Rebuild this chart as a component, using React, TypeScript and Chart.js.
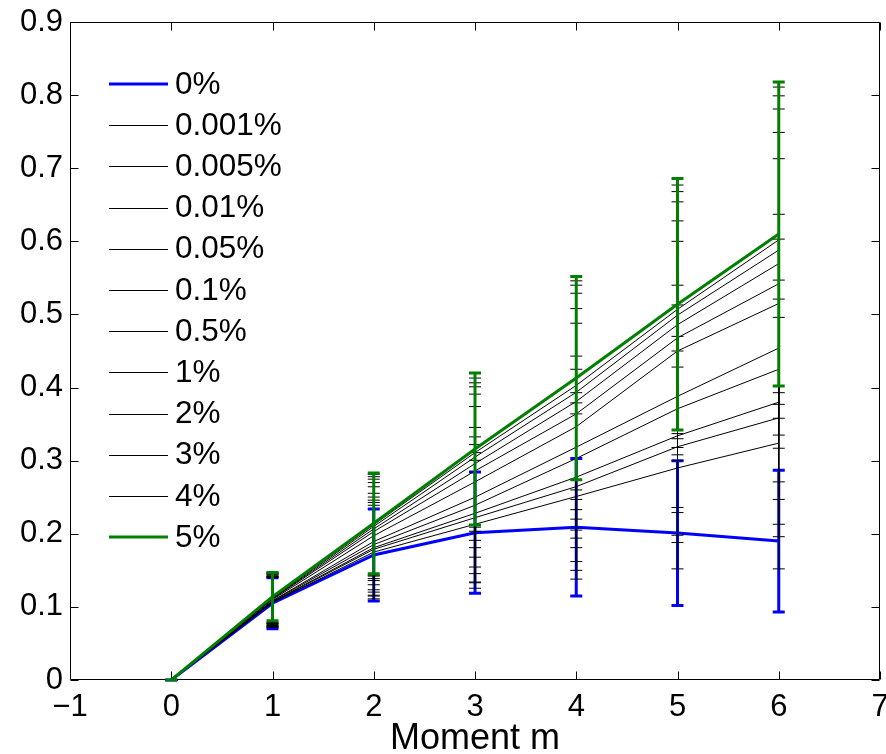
import React, { useEffect, useRef } from 'react';
import { Chart, registerables } from 'chart.js';

Chart.register(...registerables);

// ---------------- data ----------------
const momentX = [0, 1, 2, 3, 4, 5, 6];
const xTickValues = [-1, 0, 1, 2, 3, 4, 5, 6, 7];
const yTickValues = [0, 0.1, 0.2, 0.3, 0.4, 0.5, 0.6, 0.7, 0.8, 0.9];
const noiseLabels = ['0%', '0.001%', '0.005%', '0.01%', '0.05%', '0.1%', '0.5%', '1%', '2%', '3%', '4%', '5%'];

const mean_0 = [0, 0.105, 0.171, 0.2015, 0.209, 0.201, 0.19];
const err_0 = [0, 0.035, 0.063, 0.083, 0.094, 0.099, 0.097];
const mean_0001 = [0, 0.106, 0.175, 0.213, 0.251, 0.29, 0.324];
const err_0001 = [0, 0.034, 0.064, 0.0875, 0.113, 0.138, 0.172];
const mean_0005 = [0, 0.1065, 0.1788, 0.222, 0.2645, 0.319, 0.3585];
const err_0005 = [0, 0.034, 0.064, 0.089, 0.1145, 0.131, 0.1625];
const mean_001 = [0, 0.107, 0.181, 0.228, 0.2775, 0.334, 0.38];
const err_001 = [0, 0.034, 0.065, 0.094, 0.1155, 0.136, 0.167];
const mean_005 = [0, 0.108, 0.1852, 0.239, 0.303, 0.371, 0.425];
const err_005 = [0, 0.034, 0.065, 0.0935, 0.122, 0.142, 0.178];
const mean_01 = [0, 0.1085, 0.1894, 0.25, 0.3185, 0.388, 0.454];
const err_01 = [0, 0.034, 0.066, 0.0955, 0.1245, 0.152, 0.183];
const mean_05 = [0, 0.11, 0.1973, 0.271, 0.3465, 0.45, 0.515];
const err_05 = [0, 0.034, 0.067, 0.103, 0.1415, 0.15, 0.198];
const mean_1 = [0, 0.111, 0.203, 0.286, 0.364, 0.468, 0.542];
const err_1 = [0, 0.034, 0.067, 0.105, 0.144, 0.16, 0.207];
const mean_2 = [0, 0.1115, 0.2067, 0.296, 0.381, 0.486, 0.5695];
const err_2 = [0, 0.034, 0.068, 0.105, 0.148, 0.168, 0.2115];
const mean_3 = [0, 0.112, 0.2101, 0.305, 0.3935, 0.499, 0.588];
const err_3 = [0, 0.034, 0.068, 0.1015, 0.1465, 0.169, 0.211];
const mean_4 = [0, 0.113, 0.2124, 0.311, 0.403, 0.507, 0.602];
const err_4 = [0, 0.034, 0.069, 0.102, 0.143, 0.17, 0.209];
const mean_5 = [0, 0.114, 0.2143, 0.316, 0.413, 0.514, 0.61];
const err_5 = [0, 0.033, 0.069, 0.104, 0.139, 0.172, 0.208];

const seriesMeans = [mean_0, mean_0001, mean_0005, mean_001, mean_005, mean_01, mean_05, mean_1, mean_2, mean_3, mean_4, mean_5];
const seriesErrs = [err_0, err_0001, err_0005, err_001, err_005, err_01, err_05, err_1, err_2, err_3, err_4, err_5];

// ---------------- styles ----------------
const BLUE = '#0000ff';
const GREEN = '#008000';
const BLACK = '#000000';
const colorFor = (i: number) => (i === 0 ? BLUE : i === noiseLabels.length - 1 ? GREEN : BLACK);
const widthFor = (i: number) => (i === 0 || i === noiseLabels.length - 1 ? 3 : 1);
const FONT = '"Liberation Sans", Arial, Helvetica, sans-serif';

const fmtY = (v: number) => {
  const r = Math.round(v * 10) / 10;
  return r === 0 ? '0' : r.toFixed(1);
};
const fmtX = (v: number) => (v < 0 ? '\u2212' + Math.abs(v) : String(v));

const framePlugin = {
  id: 'matlabFrame',
  beforeDatasetsDraw(chart: any) {
    const { ctx, chartArea: a, scales } = chart;
    const xs = scales.x;
    const ys = scales.y;
    const L = Math.round(a.left) + 0.5;
    const R = Math.round(a.right) - 0.5;
    const T = Math.round(a.top) + 0.5;
    const B = Math.round(a.bottom) - 0.5;
    ctx.save();
    ctx.strokeStyle = '#000';
    ctx.lineWidth = 1;
    ctx.beginPath();
    ctx.rect(L, T, R - L, B - T);
    ctx.stroke();
    const tl = 8;
    ctx.beginPath();
    yTickValues.forEach((v) => {
      const py = Math.round(ys.getPixelForValue(v)) + 0.5;
      ctx.moveTo(L, py);
      ctx.lineTo(L + tl, py);
      ctx.moveTo(R, py);
      ctx.lineTo(R - tl, py);
    });
    xTickValues.forEach((v) => {
      const px = Math.round(xs.getPixelForValue(v)) + 0.5;
      ctx.moveTo(px, B);
      ctx.lineTo(px, B - tl);
      ctx.moveTo(px, T);
      ctx.lineTo(px, T + tl);
    });
    ctx.stroke();
    ctx.restore();
  },
};

const errorBarPlugin = {
  id: 'errorBars',
  afterDatasetDraw(chart: any, args: any) {
    const i = args.index;
    const { ctx, scales } = chart;
    const xs = scales.x;
    const ys = scales.y;
    const means = seriesMeans[i];
    const errs = seriesErrs[i];
    const w = widthFor(i);
    const cap = 6;
    ctx.save();
    ctx.strokeStyle = colorFor(i);
    ctx.lineWidth = w;
    ctx.lineCap = 'butt';
    ctx.beginPath();
    momentX.forEach((x, k) => {
      const px = xs.getPixelForValue(x);
      const yt = ys.getPixelForValue(means[k] + errs[k]);
      const yb = ys.getPixelForValue(means[k] - errs[k]);
      ctx.moveTo(px, yt);
      ctx.lineTo(px, yb);
      ctx.moveTo(px - cap, yt);
      ctx.lineTo(px + cap, yt);
      ctx.moveTo(px - cap, yb);
      ctx.lineTo(px + cap, yb);
    });
    ctx.stroke();
    ctx.restore();
  },
};

const legendPlugin = {
  id: 'matlabLegend',
  afterDraw(chart: any) {
    const { ctx, chartArea: a } = chart;
    const x0 = a.left + 39;
    const x1 = a.left + 98;
    const tx = a.left + 105;
    const y0 = a.top + 62;
    const step = 41.2;
    ctx.save();
    ctx.font = `31.5px ${FONT}`;
    ctx.textBaseline = 'middle';
    ctx.textAlign = 'left';
    chart.data.datasets.forEach((ds: any, i: number) => {
      const y = y0 + i * step;
      ctx.strokeStyle = colorFor(i);
      ctx.lineWidth = widthFor(i);
      ctx.beginPath();
      ctx.moveTo(x0, Math.round(y) + (widthFor(i) === 1 ? 0.5 : 0));
      ctx.lineTo(x1, Math.round(y) + (widthFor(i) === 1 ? 0.5 : 0));
      ctx.stroke();
      ctx.fillStyle = '#000';
      ctx.fillText(ds.label, tx, y + 1);
    });
    ctx.restore();
  },
};

export default function App() {
  const ref = useRef<HTMLCanvasElement | null>(null);

  useEffect(() => {
    if (!ref.current) return;
    Chart.defaults.font.family = FONT;
    Chart.defaults.color = '#000';
    const datasets = noiseLabels.map((label, i) => ({
      label,
      data: momentX.map((x, k) => ({ x, y: seriesMeans[i][k] })),
      borderColor: colorFor(i),
      backgroundColor: colorFor(i),
      borderWidth: widthFor(i),
      pointRadius: 0,
      pointHoverRadius: 0,
      tension: 0,
      fill: false,
      order: noiseLabels.length - 1 - i,
    }));
    const chart = new Chart(ref.current, {
      type: 'line',
      data: { datasets },
      options: {
        animation: false,
        responsive: false,
        devicePixelRatio: 1,
        events: [],
        layout: { padding: { top: 22, right: 6, left: 0, bottom: 0 } },
        plugins: {
          legend: { display: false },
          tooltip: { enabled: false },
        },
        scales: {
          x: {
            type: 'linear',
            min: -1,
            max: 7,
            grid: { display: false, drawTicks: false },
            border: { display: false },
            ticks: {
              stepSize: 1,
              padding: 12,
              font: { size: 31, lineHeight: 1 },
              color: '#000',
              maxRotation: 0,
              autoSkip: false,
              callback: (v: any) => fmtX(Number(v)),
            },
            title: {
              display: true,
              text: 'Moment m',
              color: '#000',
              font: { size: 36, lineHeight: 0.85 },
              padding: { top: 0, bottom: 0 },
            },
            afterFit: (s: any) => {
              s.height = 74;
              s.paddingLeft = 0;
              s.paddingRight = 0;
            },
          },
          y: {
            type: 'linear',
            min: 0,
            max: 0.9,
            grid: { display: false, drawTicks: false },
            border: { display: false },
            ticks: {
              stepSize: 0.1,
              padding: 7,
              font: { size: 31, lineHeight: 1 },
              color: '#000',
              autoSkip: false,
              callback: (v: any) => fmtY(Number(v)),
            },
            afterFit: (s: any) => {
              s.width = 70;
              s.paddingTop = 0;
              s.paddingBottom = 0;
            },
          },
        },
      },
      plugins: [framePlugin, errorBarPlugin, legendPlugin],
    } as any);
    return () => chart.destroy();
  }, []);

  return (
    <div style={{ position: 'fixed', left: 0, top: 0, width: 886, height: 754, background: '#fff' }}>
      <canvas ref={ref} width={886} height={754} style={{ display: 'block' }} />
    </div>
  );
}
